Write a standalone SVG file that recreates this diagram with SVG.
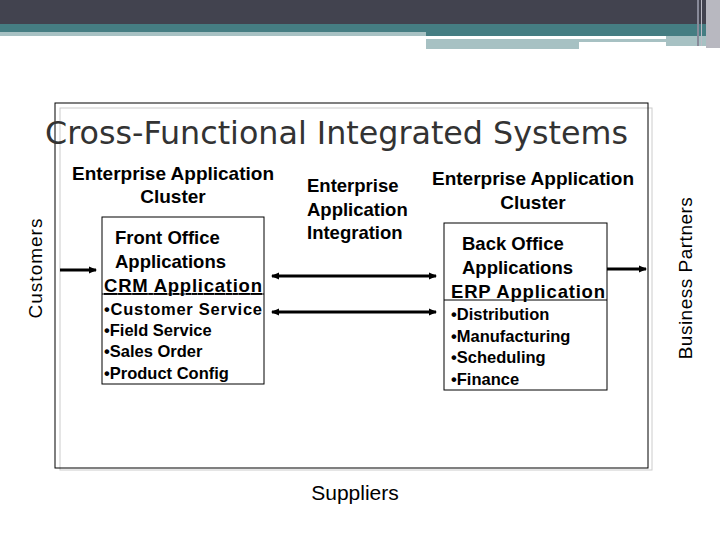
<svg xmlns="http://www.w3.org/2000/svg" width="720" height="540" viewBox="0 0 720 540">
<defs>
<marker id="ah" markerWidth="8" markerHeight="8" refX="7" refY="4" orient="auto-start-reverse" markerUnits="userSpaceOnUse"><path d="M0,0.5 L8,4 L0,7.5 z" fill="#000"/></marker>
<style>
.t{font-family:"Liberation Sans",Arial,sans-serif;font-weight:bold;fill:#000}
.c{stroke:#000;stroke-width:3;fill:none}
.box{fill:#fff;stroke:#000;stroke-width:1}
</style>
</defs>
<rect width="720" height="540" fill="#fff"/>
<rect x="0" y="0" width="720" height="24" fill="#42434f"/>
<rect x="0" y="24" width="720" height="8" fill="#457d82"/>
<rect x="0" y="32" width="426" height="4" fill="#a7c1c3"/>
<rect x="426" y="32" width="294" height="4" fill="#457d82"/>
<rect x="426" y="39" width="240" height="3" fill="#a7c1c3"/>
<rect x="426" y="42" width="153" height="7" fill="#a7c1c3"/>
<rect x="666" y="36" width="40" height="10" fill="#a7c1c3"/>
<rect x="697" y="0" width="2" height="46" fill="#888a99"/>
<rect x="701" y="0" width="1" height="46" fill="#bbbbc5"/>
<rect x="706" y="0" width="14" height="48" fill="#b8b8c0"/>
<rect x="60" y="108" width="592" height="362" fill="none" stroke="#ccc" stroke-width="1"/>
<rect x="55" y="103" width="593" height="365" fill="none" stroke="#000" stroke-width="1"/>
<text x="45" y="144" font-family="'DejaVu Sans',sans-serif" font-size="32" fill="#333" textLength="583" lengthAdjust="spacingAndGlyphs">Cross-Functional Integrated Systems</text>
<g id="customers"><text transform="translate(42,268) rotate(-90)" font-family="'Liberation Sans',Arial,sans-serif" font-size="19" text-anchor="middle" letter-spacing="1">Customers</text></g>
<g id="partners"><text transform="translate(692,278) rotate(-90)" font-family="'Liberation Sans',Arial,sans-serif" font-size="19" text-anchor="middle" letter-spacing="0.5">Business Partners</text></g>
<g id="cluster-left"><text class="t" font-size="19" text-anchor="middle"><tspan x="173" y="180">Enterprise Application</tspan><tspan x="173" y="203">Cluster</tspan></text></g>
<g id="eai"><text class="t" font-size="18.5"><tspan x="307" y="192">Enterprise</tspan><tspan x="307" y="216">Application</tspan><tspan x="307" y="239">Integration</tspan></text></g>
<g id="cluster-right"><text class="t" font-size="19" text-anchor="middle"><tspan x="533" y="185">Enterprise Application</tspan><tspan x="533" y="209">Cluster</tspan></text></g>
<g id="front">
<rect class="box" x="102" y="217" width="162" height="167"/>
<line x1="102" y1="294" x2="264" y2="294" stroke="#000"/>
<text class="t" font-size="18.5"><tspan x="115" y="244">Front Office</tspan><tspan x="115" y="268">Applications</tspan><tspan x="104" y="292" text-decoration="underline" textLength="158">CRM Application</tspan></text>
<text class="t" font-size="16.5"><tspan x="104" y="315" textLength="158">•Customer Service</tspan><tspan x="104" y="336">•Field Service</tspan><tspan x="104" y="357">•Sales Order</tspan><tspan x="104" y="379">•Product Config</tspan></text>
</g>
<g id="back">
<rect class="box" x="444" y="223" width="163" height="167"/>
<line x1="444" y1="300" x2="607" y2="300" stroke="#000"/>
<text class="t" font-size="18.5"><tspan x="462" y="250">Back Office</tspan><tspan x="462" y="274">Applications</tspan><tspan x="451" y="298" textLength="154">ERP Application</tspan></text>
<text class="t" font-size="16.5"><tspan x="451" y="320">•Distribution</tspan><tspan x="451" y="342">•Manufacturing</tspan><tspan x="451" y="363">•Scheduling</tspan><tspan x="451" y="385">•Finance</tspan></text>
</g>
<g id="suppliers"><text x="355" y="500" font-family="'Liberation Sans',Arial,sans-serif" font-size="21" text-anchor="middle">Suppliers</text></g>
<g id="connectors">
<line class="c" x1="60" y1="270" x2="96" y2="270" marker-end="url(#ah)"/>
<line class="c" x1="607" y1="269" x2="646" y2="269" marker-end="url(#ah)"/>
<line class="c" x1="272" y1="276" x2="436" y2="276" marker-start="url(#ah)" marker-end="url(#ah)"/>
<line class="c" x1="272" y1="312" x2="436" y2="312" marker-start="url(#ah)" marker-end="url(#ah)"/>
</g>
</svg>
